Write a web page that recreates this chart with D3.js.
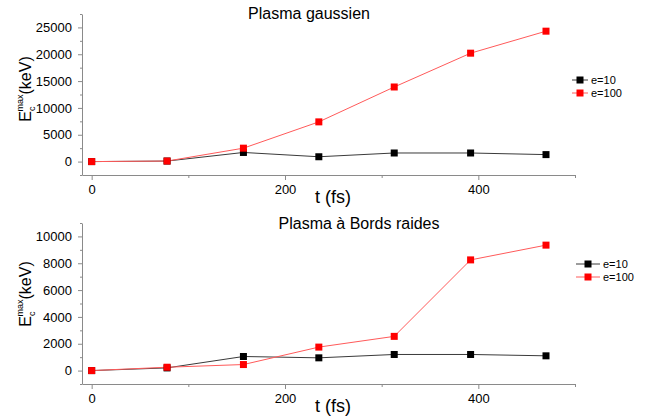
<!DOCTYPE html>
<html>
<head>
<meta charset="utf-8">
<script src="https://cdn.jsdelivr.net/npm/d3@7"></script>
<style>
html,body{margin:0;padding:0;background:#fff;}
svg{display:block;font-family:"Liberation Sans",Arial,sans-serif;}
</style>
</head>
<body>
<svg id="chart" width="651" height="419"></svg>
<script>
// ---- data ----
const times = [0, 78, 157, 235, 313, 392, 470];
const seriesNames = ["e=10", "e=100"];
const gaussE10  = [0, 100, 1700, 900, 1600, 1600, 1300];
const gaussE100 = [0, 100, 2500, 7400, 13900, 20200, 24300];
const raidesE10  = [0, 200, 1050, 950, 1200, 1200, 1100];
const raidesE100 = [0, 250, 450, 1750, 2550, 8250, 9350];
const xTicks = [0, 200, 400];
const xMinorTicks = [100, 300, 500];
const gaussYTicks = [0, 5000, 10000, 15000, 20000, 25000];
const gaussYMinor = [-2500, 2500, 7500, 12500, 17500, 22500, 27500];
const raidesYTicks = [0, 2000, 4000, 6000, 8000, 10000];
const raidesYMinor = [-1000, 1000, 3000, 5000, 7000, 9000, 11000];
const titles = ["Plasma gaussien", "Plasma à Bords raides"];

const svg = d3.select("#chart");
const lineColors = ["#3a3a3a", "#ff5a5a"];
const markColors = ["#000000", "#ff0000"];
const axisColor = "#8a8a8a";

function panel(cfg) {
  const x = d3.scaleLinear().domain([-10, 500]).range([82, 575]);
  const y = d3.scaleLinear().domain(cfg.yDomain).range([cfg.bottom, cfg.top]);
  const g = svg.append("g");

  // axes
  const xAxis = d3.axisBottom(x).tickValues(xTicks).tickSize(5).tickSizeOuter(0).tickPadding(5);
  const xa = g.append("g").attr("transform", `translate(0,${cfg.bottom})`).call(xAxis);
  const xm = g.append("g").attr("transform", `translate(0,${cfg.bottom})`)
    .call(d3.axisBottom(x).tickValues(xMinorTicks).tickSize(3).tickFormat("").tickSizeOuter(0));
  xm.select(".domain").remove();
  const yAxis = d3.axisLeft(y).tickValues(cfg.yTicks).tickSize(4).tickSizeOuter(0).tickPadding(6).tickFormat(d3.format("d"));
  const ya = g.append("g").attr("transform", "translate(82,0)").call(yAxis);
  const ym = g.append("g").attr("transform", "translate(82,0)")
    .call(d3.axisLeft(y).tickValues(cfg.yMinor).tickSize(2).tickFormat("").tickSizeOuter(0));
  ym.select(".domain").remove();
  [xa, xm, ya, ym].forEach(a => {
    a.selectAll("path,line").attr("stroke", axisColor);
    a.selectAll("text").attr("fill", "#000").style("font-size", "13px").style("font-family", "'Liberation Sans',Arial,sans-serif");
  });

  // series
  const line = d3.line().x((d, i) => x(times[i])).y(d => y(d));
  cfg.series.forEach((vals, s) => {
    g.append("path").datum(vals).attr("d", line)
      .attr("fill", "none").attr("stroke", lineColors[s]).attr("stroke-width", 1);
  });
  cfg.series.forEach((vals, s) => {
    g.selectAll(null).data(vals).enter().append("rect")
      .attr("x", (d, i) => x(times[i]) - 3.5).attr("y", d => y(d) - 3.5)
      .attr("width", 7).attr("height", 7).attr("fill", markColors[s]);
  });

  // title
  g.append("text").attr("x", cfg.titleX).attr("y", cfg.titleY).attr("text-anchor", "middle")
    .style("font-size", "16px").text(cfg.title);
  // x label
  g.append("text").attr("x", 333).attr("y", cfg.bottom + 28).attr("text-anchor", "middle")
    .style("font-size", "18px").text("t (fs)");
  // y label
  const yl = g.append("text").attr("transform", `translate(${cfg.ylX},${cfg.ylY}) rotate(-90)`)
    .attr("text-anchor", "middle").style("font-size", "16px");
  yl.append("tspan").text("E");
  yl.append("tspan").attr("dy", 4).style("font-size", "9px").text("c");
  yl.append("tspan").attr("dx", -5).attr("dy", -12).style("font-size", "9px").text("max");
  yl.append("tspan").attr("dy", 8).text("(keV)");

  // legend
  seriesNames.forEach((name, s) => {
    const ly = cfg.legY + s * 13;
    g.append("line").attr("x1", cfg.legX1).attr("x2", cfg.legX2).attr("y1", ly).attr("y2", ly)
      .attr("stroke", lineColors[s]).attr("stroke-width", 1);
    g.append("rect").attr("x", (cfg.legX1 + cfg.legX2) / 2 - 3.5).attr("y", ly - 3.5)
      .attr("width", 7).attr("height", 7).attr("fill", markColors[s]);
    g.append("text").attr("x", cfg.legX2 + 3).attr("y", ly + 4).style("font-size", "11px").text(name);
  });
}

panel({
  yDomain: [-2500, 27500], top: 14, bottom: 175,
  yTicks: gaussYTicks, yMinor: gaussYMinor,
  series: [gaussE10, gaussE100], title: titles[0], titleX: 309, titleY: 19,
  ylX: 31, ylY: 89, legY: 80, legX1: 572, legX2: 588
});
panel({
  yDomain: [-1000, 11000], top: 223, bottom: 384,
  yTicks: raidesYTicks, yMinor: raidesYMinor,
  series: [raidesE10, raidesE100], title: titles[1], titleX: 359, titleY: 229,
  ylX: 31, ylY: 294, legY: 264, legX1: 576, legX2: 600
});
</script>
</body>
</html>
